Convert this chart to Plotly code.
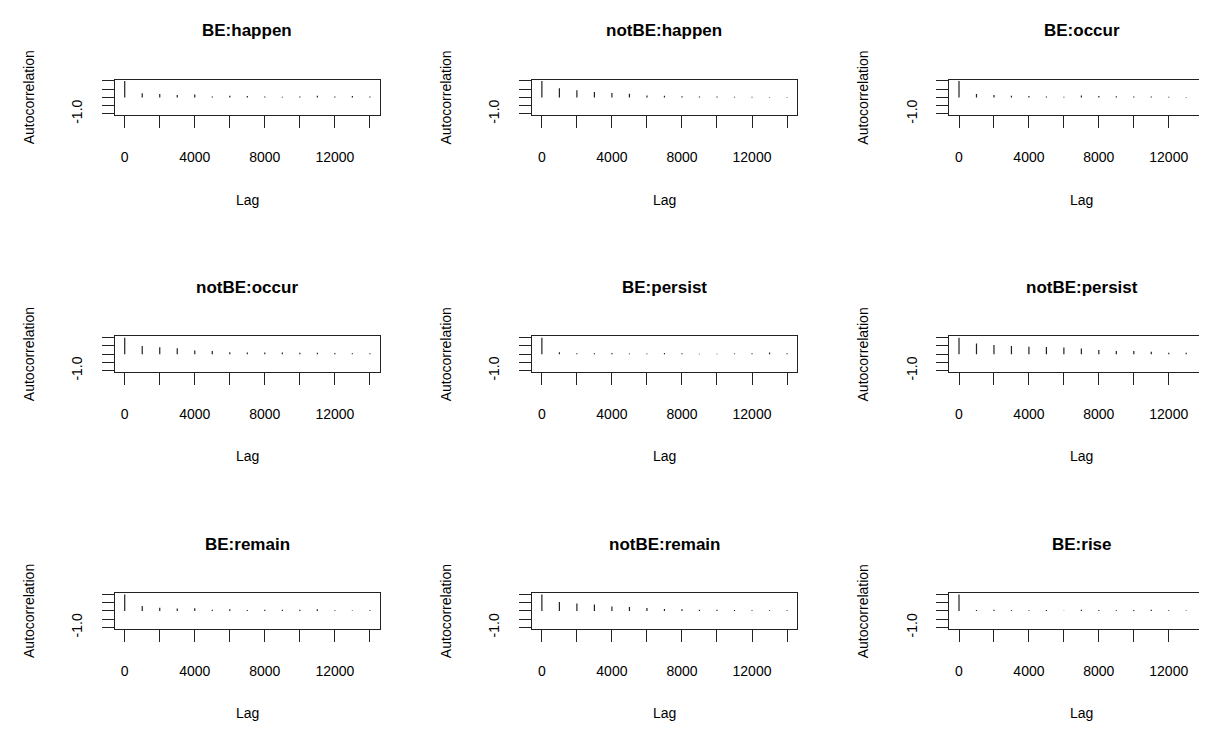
import plotly.graph_objects as go

W, H = 1207, 732

titles = ["BE:happen", "notBE:happen", "BE:occur",
          "notBE:occur", "BE:persist", "notBE:persist",
          "BE:remain", "notBE:remain", "BE:rise"]

lags = [0, 1000, 2000, 3000, 4000, 5000, 6000, 7000, 8000, 9000, 10000, 11000, 12000, 13000, 14000]

acf_be_happen = [1.0, 0.25, 0.2, 0.15, 0.17, 0.05, 0.1, 0.08, 0.06, 0.04, 0.05, 0.1, 0.06, 0.08, 0.06]
acf_notbe_happen = [1.0, 0.55, 0.44, 0.32, 0.26, 0.22, 0.12, 0.1, 0.07, 0.05, 0.05, 0.04, 0.04, 0.03, 0.03]
acf_be_occur = [1.0, 0.2, 0.15, 0.1, 0.08, 0.05, 0.04, 0.12, 0.08, 0.07, 0.06, 0.05, 0.04, 0.03, 0.04]
acf_notbe_occur = [1.0, 0.5, 0.42, 0.36, 0.22, 0.2, 0.12, 0.1, 0.1, 0.1, 0.08, 0.08, 0.07, 0.06, 0.05]
acf_be_persist = [1.0, 0.12, 0.05, 0.05, 0.07, 0.04, 0.04, 0.07, 0.05, 0.03, 0.03, 0.04, 0.05, 0.1, 0.06]
acf_notbe_persist = [1.0, 0.65, 0.56, 0.5, 0.45, 0.44, 0.4, 0.35, 0.26, 0.2, 0.2, 0.15, 0.09, 0.08, 0.1]
acf_be_remain = [1.0, 0.3, 0.2, 0.15, 0.17, 0.08, 0.1, 0.06, 0.07, 0.08, 0.08, 0.1, 0.04, 0.03, 0.04]
acf_notbe_remain = [1.0, 0.55, 0.45, 0.4, 0.28, 0.25, 0.18, 0.12, 0.1, 0.08, 0.08, 0.06, 0.04, 0.04, 0.05]
acf_be_rise = [1.0, 0.06, 0.08, 0.05, 0.04, 0.06, 0.02, 0.08, 0.06, 0.05, 0.06, 0.07, 0.04, 0.03, 0.05]

series = [acf_be_happen, acf_notbe_happen, acf_be_occur,
          acf_notbe_occur, acf_be_persist, acf_notbe_persist,
          acf_be_remain, acf_notbe_remain, acf_be_rise]

x_tickvals = [0, 2000, 4000, 6000, 8000, 10000, 12000, 14000]
x_ticktext = ["0", "", "4000", "", "8000", "", "12000", ""]
y_tickvals = [-1, -0.5, 0, 0.5, 1]
y_ticktext = ["-1.0", "", "", "", ""]

FONT = "Liberation Sans, Arial, Helvetica, sans-serif"

# panel geometry (pixels)
BOX_L0, BOX_W, COL_PITCH = 107, 265, 417.5
BOX_T0, BOX_H, ROW_PITCH = 72.5, 36, 260

fig = go.Figure()
annotations = []
for i, (title, vals) in enumerate(zip(titles, series)):
    r, c = divmod(i, 3)
    k = "" if i == 0 else str(i + 1)
    left = BOX_L0 + COL_PITCH * c
    right = min(left + BOX_W, W - 0.5)
    top = BOX_T0 + ROW_PITCH * r
    bottom = top + BOX_H
    xs, ys = [], []
    for lag, v in zip(lags, vals):
        xs += [lag, lag, None]
        ys += [0, v, None]
    fig.add_trace(go.Scatter(x=xs, y=ys, mode="lines",
                             line=dict(color="#222222", width=1.2),
                             xaxis="x" + k, yaxis="y" + k,
                             showlegend=False, hoverinfo="skip"))
    axcommon = dict(showgrid=False, zeroline=False, showline=True, mirror=True,
                    linecolor="#222222", linewidth=1.2, ticks="outside", ticklen=12,
                    tickwidth=1.2, tickcolor="#222222",
                    tickfont=dict(family=FONT, size=14, color="black"))
    fig.update_layout(**{
        "xaxis" + k: dict(domain=[left / W, right / W], anchor="y" + k,
                          range=[-560, 14560], tickvals=x_tickvals,
                          ticktext=x_ticktext, ticklabelstandoff=17, **axcommon),
        "yaxis" + k: dict(domain=[1 - bottom / H, 1 - top / H], anchor="x" + k,
                          range=[-1.08, 1.08], tickvals=y_tickvals,
                          ticktext=y_ticktext, tickangle=-90,
                          ticklabelstandoff=14, **axcommon),
    })
    cx = (left + left + BOX_W) / 2
    annotations.append(dict(text="<b>" + title + "</b>", x=cx / W, y=1 - (23 + ROW_PITCH * r) / H,
                            xref="paper", yref="paper", showarrow=False,
                            xanchor="center", yanchor="middle",
                            font=dict(family=FONT, size=17, color="black")))
    annotations.append(dict(text="Lag", x=cx / W, y=1 - (194 + ROW_PITCH * r) / H,
                            xref="paper", yref="paper", showarrow=False,
                            xanchor="center", yanchor="middle",
                            font=dict(family=FONT, size=14, color="black")))
    annotations.append(dict(text="Autocorrelation", x=(21 + COL_PITCH * c) / W,
                            y=1 - (top + bottom) / 2 / H,
                            xref="paper", yref="paper", showarrow=False, textangle=-90,
                            xanchor="center", yanchor="middle",
                            font=dict(family=FONT, size=14, color="black")))

fig.update_layout(width=W, height=H, margin=dict(l=0, r=0, t=0, b=0),
                  paper_bgcolor="white", plot_bgcolor="white",
                  annotations=annotations, showlegend=False)
fig.write_html("out.html")
